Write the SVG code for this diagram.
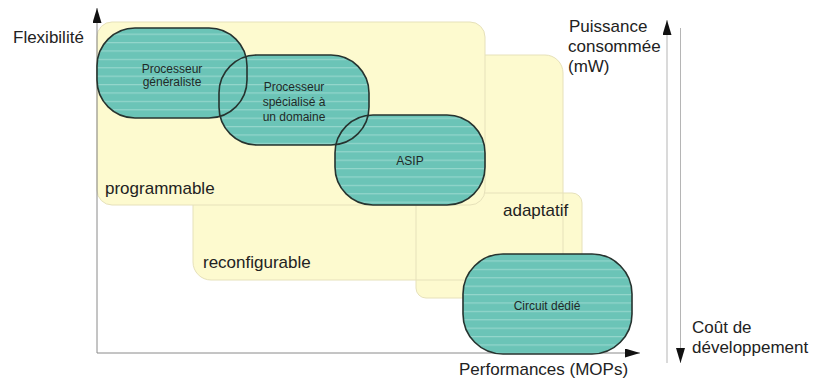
<svg xmlns="http://www.w3.org/2000/svg" width="813" height="382" viewBox="0 0 813 382">
<defs>
<pattern id="stripes" patternUnits="userSpaceOnUse" width="10" height="8.4">
<rect width="10" height="8.4" fill="#6bc4b7"/>
<rect y="0" width="10" height="1.2" fill="#94d6cc"/>
</pattern>
<marker id="arr" markerUnits="userSpaceOnUse" markerWidth="15" markerHeight="9" refX="15" refY="4.5" orient="auto">
<path d="M0,0 L15,4.5 L0,9 z" fill="#111"/>
</marker>
<style>
.zone{fill:#fdfacf;}
.zoneline{fill:none;stroke:#e6e1ba;stroke-width:1;}
.node{fill:url(#stripes);}
.nodeline{fill:none;stroke:#26332f;stroke-width:1.6;}
.ntext{font-family:"Liberation Sans",Arial,sans-serif;font-size:12px;fill:#1f2a28;text-anchor:middle;}
.label{font-family:"Liberation Sans",Arial,sans-serif;font-size:17px;fill:#222;}
.axis{stroke:#8a8a8a;stroke-width:1;fill:none;}
.axis2{stroke:#b5b5b5;stroke-width:1;fill:none;}
</style>
</defs>
<rect width="813" height="382" fill="#fff"/>

<g id="zone-reconfigurable">
<rect class="zone" x="193" y="55" width="370" height="225" rx="18"/>
</g>
<g id="zone-adaptatif">
<rect class="zone" x="416" y="193" width="166" height="105" rx="10"/>
</g>
<rect class="zoneline" x="193" y="55" width="370" height="225" rx="18"/>
<rect class="zoneline" x="416" y="193" width="166" height="105" rx="10"/>
<g id="zone-programmable">
<rect class="zone" x="97" y="22" width="388" height="183" rx="15"/>
<rect class="zoneline" x="97" y="22" width="388" height="183" rx="15"/>
</g>

<text class="label" x="105" y="194">programmable</text>
<text class="label" x="203" y="268">reconfigurable</text>
<text class="label" x="503" y="216">adaptatif</text>

<g id="connectors">
<line class="axis" x1="97" y1="353" x2="97" y2="8" marker-end="url(#arr)"/>
<line class="axis" x1="97" y1="353" x2="640" y2="353" marker-end="url(#arr)"/>
<line class="axis2" x1="667" y1="363" x2="667" y2="20" marker-end="url(#arr)"/>
<line class="axis2" x1="680.5" y1="28" x2="680.5" y2="363" marker-end="url(#arr)"/>
</g>

<g id="nodes-fill">
<rect class="node" x="97" y="28" width="150" height="90" rx="38"/>
<rect class="node" x="219" y="55" width="150" height="90" rx="38"/>
<rect class="node" x="335" y="115" width="150" height="90" rx="38"/>
<rect class="node" x="463" y="254" width="169" height="100" rx="40"/>
</g>

<g id="node-generaliste">
<rect class="nodeline" x="97" y="28" width="150" height="90" rx="38"/>
<text class="ntext" x="172" y="73">Processeur</text>
<text class="ntext" x="172" y="86">généraliste</text>
</g>
<g id="node-specialise">
<rect class="nodeline" x="219" y="55" width="150" height="90" rx="38"/>
<text class="ntext" x="294" y="91">Processeur</text>
<text class="ntext" x="294" y="106">spécialisé à</text>
<text class="ntext" x="294" y="121">un domaine</text>
</g>
<g id="node-asip">
<rect class="nodeline" x="335" y="115" width="150" height="90" rx="38"/>
<text class="ntext" x="410" y="165">ASIP</text>
</g>
<g id="node-circuit">
<rect class="nodeline" x="463" y="254" width="169" height="100" rx="40"/>
<text class="ntext" x="547" y="310">Circuit dédié</text>
</g>

<text class="label" x="13" y="43">Flexibilité</text>
<text class="label" x="459" y="375">Performances (MOPs)</text>
<text class="label" x="569" y="32">Puissance</text>
<text class="label" x="568" y="52">consommée</text>
<text class="label" x="568" y="72">(mW)</text>
<text class="label" x="692" y="333">Coût de</text>
<text class="label" x="692" y="353">développement</text>
</svg>
